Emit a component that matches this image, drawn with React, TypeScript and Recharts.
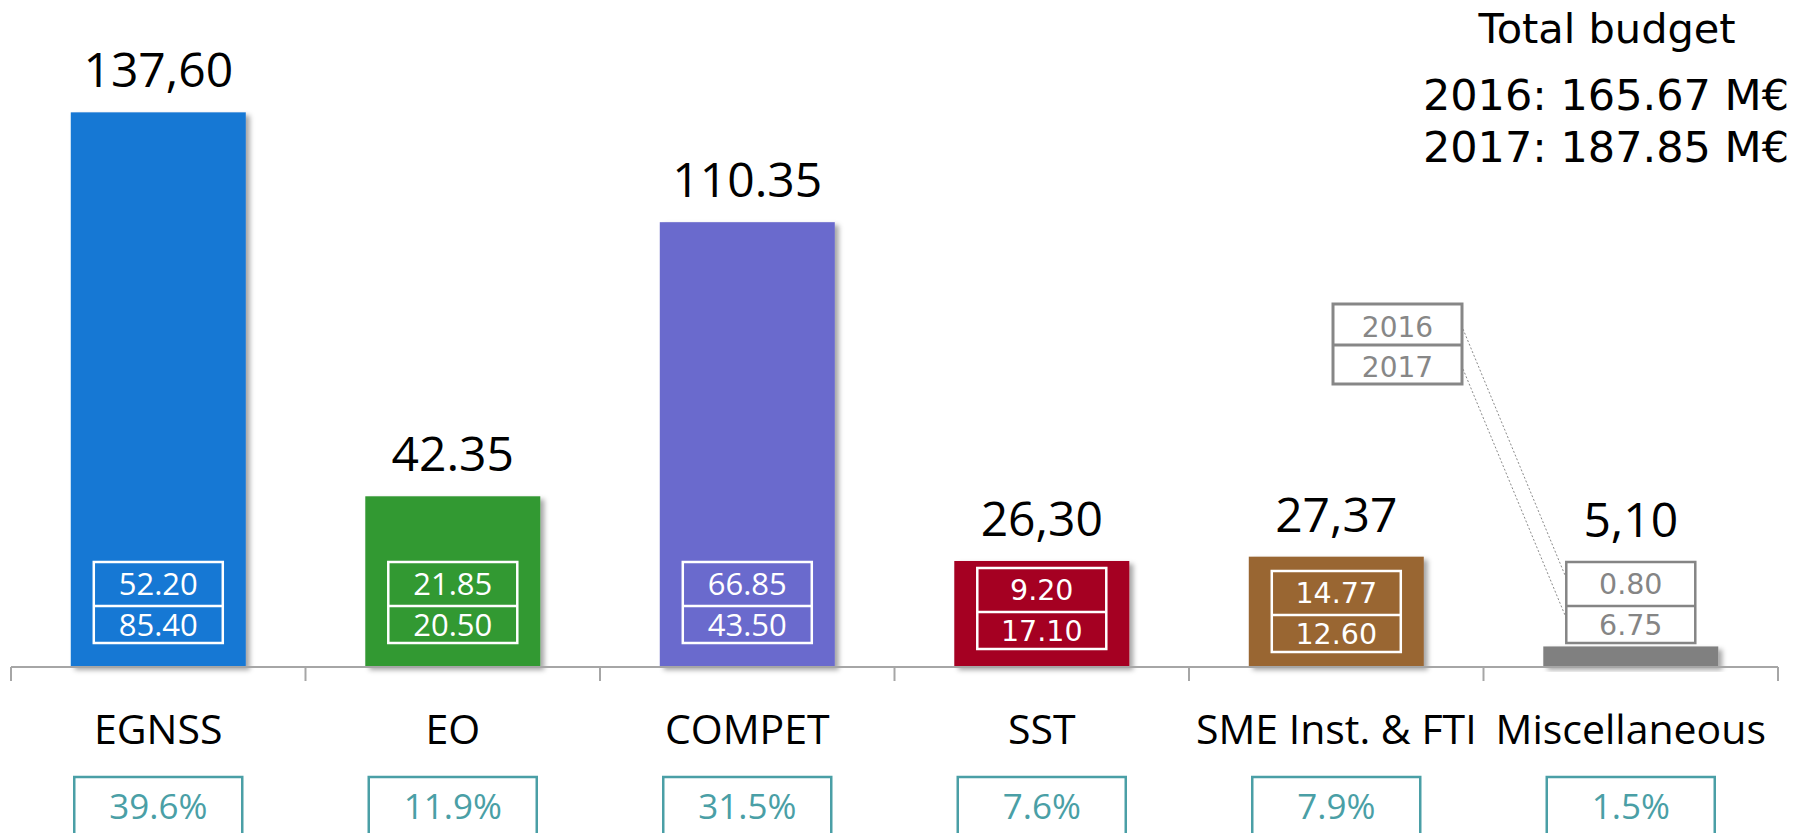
import React from 'react';
import { BarChart, Bar, XAxis, YAxis, Customized } from 'recharts';

// ---- data ----
const categories = ['EGNSS', 'EO', 'COMPET', 'SST', 'SME Inst. & FTI', 'Miscellaneous'];
const totals = [137.6, 42.35, 110.35, 26.3, 27.37, 5.1];
const totalLabels = ['137,60', '42.35', '110.35', '26,30', '27,37', '5,10'];
const budget2016 = ['52.20', '21.85', '66.85', '9.20', '14.77', '0.80'];
const budget2017 = ['85.40', '20.50', '43.50', '17.10', '12.60', '6.75'];
const shares = ['39.6%', '11.9%', '31.5%', '7.6%', '7.9%', '1.5%'];
const legendYears = ['2016', '2017'];
const totalBudgetTitle = 'Total budget';
const totalBudgetLines = ['2016: 165.67 M€', '2017: 187.85 M€'];

// ---- styles ----
const barColors = ['#1878d4', '#339933', '#6b6bcd', '#a50021', '#996633', '#808080'];
const CAL = "'Open Sans', 'Noto Sans', sans-serif";
const VER = "'DejaVu Sans', Verdana, sans-serif";
const boxStyles = [
  { font: CAL, size: 31, cap: 11, color: '#ffffff', shift: 0 },
  { font: CAL, size: 31, cap: 11, color: '#ffffff', shift: 0 },
  { font: CAL, size: 31, cap: 11, color: '#ffffff', shift: 0 },
  { font: VER, size: 28.5, cap: 10.4, color: '#ffffff', shift: 6 },
  { font: VER, size: 28.5, cap: 10.4, color: '#ffffff', shift: 9 },
  { font: VER, size: 28.5, cap: 10.4, color: '#858585', shift: 0 },
];
const TEAL = '#4a9fa6';
const GRAY = '#878787';

const data = categories.map((c, i) => ({ category: c, total: totals[i] }));

const BarWithBoxes = (props: any) => {
  const { x, y, width, height, index } = props;
  const cx = x + width / 2;
  const base = y + height;
  const st = boxStyles[index];
  const bw = 129;
  const top = base - 105 + st.shift;
  const mid = base - 61 + st.shift;
  const bot = base - 24 + st.shift;
  const labelY = Math.min(y, top) - 25;
  return (
    <g>
      {index === 0 && (
        <defs>
          <filter id="barShadow" x="-10%" y="-10%" width="130%" height="130%">
            <feDropShadow dx="4" dy="3" stdDeviation="2.5" floodColor="#000" floodOpacity="0.35" />
          </filter>
        </defs>
      )}
      <rect x={x} y={y} width={width} height={height} fill={barColors[index]} filter="url(#barShadow)" />
      <text x={cx} y={labelY} textAnchor="middle" fontFamily={CAL} fontSize={48} fill="#000">
        {totalLabels[index]}
      </text>
      <rect x={cx - bw / 2} y={top} width={bw} height={bot - top} fill="none" stroke={st.color} strokeWidth={2.5} />
      <line x1={cx - bw / 2} x2={cx + bw / 2} y1={mid} y2={mid} stroke={st.color} strokeWidth={2.5} />
      <text x={cx} y={(top + mid) / 2 + st.cap} textAnchor="middle" fontFamily={st.font} fontSize={st.size} fill={st.color}>
        {budget2016[index]}
      </text>
      <text x={cx} y={(mid + bot) / 2 + st.cap} textAnchor="middle" fontFamily={st.font} fontSize={st.size} fill={st.color}>
        {budget2017[index]}
      </text>
    </g>
  );
};

const CategoryTick = (props: any) => {
  const { x, y, payload, index } = props;
  const half = payload && payload.offset ? payload.offset : 147.25;
  return (
    <g>
      <line x1={x - half} x2={x - half} y1={y} y2={y + 14} stroke="#a6a6a6" strokeWidth={2} />
      {index === categories.length - 1 && (
        <line x1={x + half} x2={x + half} y1={y} y2={y + 14} stroke="#a6a6a6" strokeWidth={2} />
      )}
      <text x={x} y={y + 77} textAnchor="middle" fontFamily={CAL} fontSize={41} fill="#000">
        {payload.value}
      </text>
      <rect x={x - 84} y={y + 110} width={168} height={80} fill="none" stroke={TEAL} strokeWidth={2.5} />
      <text x={x} y={y + 152} textAnchor="middle" fontFamily={CAL} fontSize={35} fill={TEAL}>
        {shares[index]}
      </text>
    </g>
  );
};

const Annotations = () => (
  <g>
    <text x={1607} y={43} textAnchor="middle" fontFamily={VER} fontSize={41.5} fill="#000">
      {totalBudgetTitle}
    </text>
    {totalBudgetLines.map((t, i) => (
      <text key={t} x={1606} y={110 + i * 52} textAnchor="middle" fontFamily={VER} fontSize={43} fill="#000">
        {t}
      </text>
    ))}
    <rect x={1333} y={304} width={129} height={80} fill="none" stroke={GRAY} strokeWidth={3} />
    <line x1={1333} x2={1462} y1={345} y2={345} stroke={GRAY} strokeWidth={3} />
    {legendYears.map((t, i) => (
      <text key={t} x={1397.5} y={337 + i * 40} textAnchor="middle" fontFamily={VER} fontSize={28} fill={GRAY}>
        {t}
      </text>
    ))}
    <line x1={1463} y1={329} x2={1567} y2={580} stroke="#8a8a8a" strokeWidth={1} strokeDasharray="2 2" />
    <line x1={1463} y1={369} x2={1567} y2={620} stroke="#8a8a8a" strokeWidth={1} strokeDasharray="2 2" />
  </g>
);

export default function App() {
  return (
    <div style={{ position: 'absolute', left: 0, top: 0, width: 1803, height: 833, overflow: 'hidden', background: '#fff' }}>
      <BarChart
        width={1803}
        height={833}
        data={data}
        margin={{ top: 18, right: 25, bottom: 0, left: 11 }}
        barCategoryGap="20.3%"
      >
        <YAxis hide domain={[0, 161]} />
        <XAxis
          dataKey="category"
          height={166}
          axisLine={{ stroke: '#a6a6a6', strokeWidth: 2 }}
          tickLine={false}
          tickSize={0}
          tickMargin={0}
          interval={0}
          tick={<CategoryTick />}
        />
        <Bar dataKey="total" isAnimationActive={false} shape={<BarWithBoxes />} />
        <Customized component={<Annotations />} />
      </BarChart>
    </div>
  );
}
